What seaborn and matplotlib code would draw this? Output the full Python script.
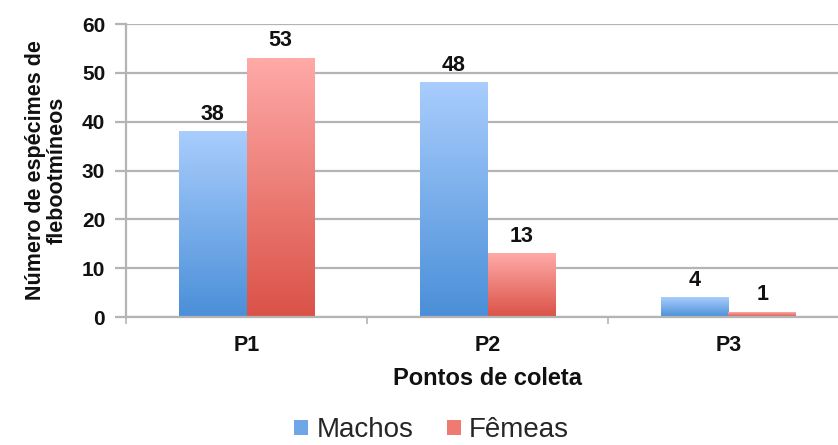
import numpy as np
import pandas as pd
import matplotlib
matplotlib.use("Agg")
import matplotlib.pyplot as plt
from matplotlib.colors import LinearSegmentedColormap
from matplotlib.patches import Patch
import seaborn as sns

# Data
pontos = ["P1", "P2", "P3"]
machos = [38, 48, 4]
femeas = [53, 13, 1]
series = ["Machos", "Fêmeas"]

df = pd.DataFrame({
    "Ponto": pontos * 2,
    "Sexo": [series[0]] * len(pontos) + [series[1]] * len(pontos),
    "Valor": machos + femeas,
})

sns.set_theme(style="white")
plt.rcParams["font.family"] = ["Liberation Sans", "DejaVu Sans"]

# gradient ends (top, bottom) per series
grad = {
    "Machos": ("#a9cdfd", "#4a8fd8"),
    "Fêmeas": ("#ffaaa8", "#da5247"),
}
mid = {"Machos": "#6fa6e8", "Fêmeas": "#ee7a72"}

fig = plt.figure(figsize=(8.38, 4.45), dpi=100)
ax = fig.add_axes([0.1504, 0.2876, 0.8627, 0.6584])

sns.barplot(data=df, x="Ponto", y="Valor", hue="Sexo", hue_order=series,
            palette=mid, width=0.564, gap=0, ax=ax, legend=False,
            saturation=1, errorbar=None)

# paint each bar with a vertical gradient
for cont, name in zip(ax.containers, series):
    cmap = LinearSegmentedColormap.from_list(name, [grad[name][1], grad[name][0]])
    for p in cont.patches:
        x0 = p.get_x()
        w = p.get_width()
        h = p.get_height()
        p.set_facecolor("none")
        p.set_edgecolor("none")
        g = np.linspace(0, 1, 256).reshape(-1, 1)
        ax.imshow(g, extent=(x0, x0 + w, 0, h), origin="lower", aspect="auto",
                  cmap=cmap, zorder=2, interpolation="bilinear")
    ax.bar_label(cont, fontsize=15.5, fontweight="bold", padding=5, color="#111111")

ax.set_ylim(0, 60)
ax.set_xlim(-0.5, 2.5)
ax.set_aspect("auto")

# axes styling
ax.set_yticks(range(0, 61, 10))
ax.yaxis.grid(True, color="#b4b4b4", linewidth=1.6)
ax.set_axisbelow(True)
for s in ["top", "right"]:
    ax.spines[s].set_visible(False)
for s in ["left", "bottom"]:
    ax.spines[s].set_color("#b4b4b4")
    ax.spines[s].set_linewidth(1.6)
ax.tick_params(axis="y", which="major", length=8, width=1.6, color="#b4b4b4",
               labelsize=15, pad=7, left=True)
ax.set_xticks([0, 1, 2])
ax.set_xticks([-0.5, 0.5, 1.5, 2.5], minor=True)
ax.tick_params(axis="x", which="major", length=0, labelsize=15.5, pad=13)
ax.tick_params(axis="x", which="minor", length=5, width=1.2, color="#b4b4b4", bottom=True)
for lbl in ax.get_xticklabels() + ax.get_yticklabels():
    lbl.set_fontweight("bold")
    lbl.set_color("#111111")

ax.set_xlabel("Pontos de coleta", fontsize=17, fontweight="bold", labelpad=8,
              color="#111111")
ax.set_ylabel("Número de espécimes de\nflebootmíneos", fontsize=15.5, fontweight="bold",
              labelpad=10, color="#111111", linespacing=1.05)

handles = [Patch(facecolor=mid[s], edgecolor="none") for s in series]
fig.legend(handles, series, loc="center", bbox_to_anchor=(0.515, 0.033),
           ncol=2, frameon=False, fontsize=20, handlelength=0.5, handleheight=0.5,
           handletextpad=0.3, columnspacing=1.2)

fig.savefig("out.png", dpi=100)
